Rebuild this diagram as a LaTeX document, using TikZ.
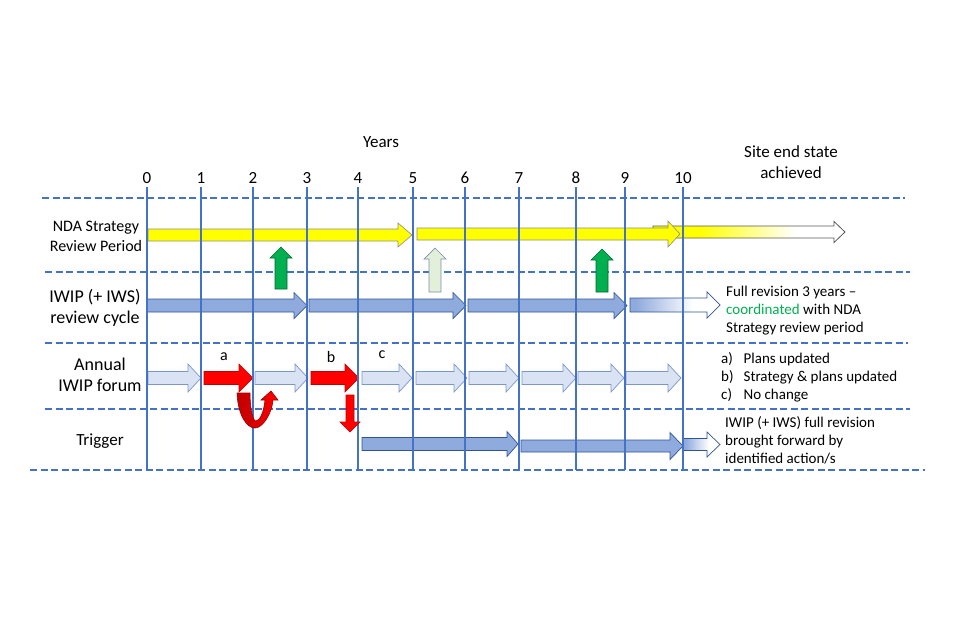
\documentclass[tikz,border=0pt]{standalone}
\usepackage{fontspec}
\setmainfont{Carlito}
\usepackage{tikz}
\usetikzlibrary{calc}
\definecolor{gridblue}{RGB}{68,114,196}
\definecolor{cyclefill}{RGB}{143,170,220}
\definecolor{cycledraw}{RGB}{47,85,151}
\definecolor{forumfill}{RGB}{218,227,243}
\definecolor{forumdraw}{RGB}{122,150,208}
\definecolor{ndayellow}{RGB}{255,255,0}
\definecolor{okgreen}{RGB}{0,176,80}
\definecolor{palegreen}{RGB}{226,240,217}
\definecolor{alertred}{RGB}{255,0,0}
\definecolor{darkred}{RGB}{192,0,0}
\pgfdeclarehorizontalshading{ndafade}{100bp}{color(0bp)=(ndayellow); color(37bp)=(ndayellow); color(62bp)=(white); color(100bp)=(white)}
\pgfdeclarehorizontalshading{cyclefade}{100bp}{color(0bp)=(cyclefill); color(28bp)=(cyclefill); color(60bp)=(white); color(100bp)=(white)}

% block arrow: [style]{x from}{x tip}{y}{shaft half}{head half}{head length}
\newcommand{\harrow}[7][]{%
	\draw[#1] (#2,{#4-#5}) -- ({#3-#7},{#4-#5}) -- ({#3-#7},{#4-#6}) -- (#3,#4)
		-- ({#3-#7},{#4+#6}) -- ({#3-#7},{#4+#5}) -- (#2,{#4+#5}) -- cycle;}
% same, vertical: [style]{x}{y from}{y tip}{shaft half}{head half}{head length}
\newcommand{\varrow}[7][]{%
	\draw[#1] ({#2-#5},#3) -- ({#2-#5},{#4-sign(#4-#3)*#7}) -- ({#2-#6},{#4-sign(#4-#3)*#7}) -- (#2,#4)
		-- ({#2+#6},{#4-sign(#4-#3)*#7}) -- ({#2+#5},{#4-sign(#4-#3)*#7}) -- ({#2+#5},#3) -- cycle;}

\begin{document}
\begin{tikzpicture}[x=1pt, y=-1pt,
		rowline/.style={gridblue, line width=1.4pt, dash pattern=on 7pt off 3.5pt},
		yearline/.style={gridblue, line width=1.6pt},
		label/.style={font=\fontsize{17}{20.5}\selectfont, align=center, inner sep=0pt},
		note/.style={font=\fontsize{15}{18}\selectfont, align=left, anchor=west, inner sep=0pt},
		ndaarrow/.style={fill=ndayellow, draw=black!45, line width=0.6pt},
		fadearrow/.style={shading=ndafade, draw=black!65, line width=0.8pt},
		cyclearrow/.style={fill=cyclefill, draw=cycledraw, line width=0.7pt},
		cyclefadearrow/.style={shading=cyclefade, draw=cycledraw, line width=0.7pt},
		forumarrow/.style={fill=forumfill, draw=forumdraw, line width=0.7pt},
		redarrow/.style={fill=alertred, draw=darkred, line width=0.6pt},
		greenarrow/.style={fill=okgreen, draw=okgreen!60!black, line width=0.6pt},
		palearrow/.style={fill=palegreen, draw=black!40!gridblue!60, line width=0.7pt}]
	\useasboundingbox (0,0) rectangle (960,640);

	% row separators
	\foreach \y/\a/\b in {198/42/905, 272/45/910, 343/45/908, 409/45/910, 470/30/925} {
		\draw[rowline] (\a,\y) -- (\b,\y);
	}

	% NDA strategy
	\harrow[fadearrow]{653}{845}{232}{6}{10.5}{11}
	\harrow[ndaarrow]{148}{412}{235}{6}{12}{14}
	\harrow[ndaarrow]{417}{680}{234}{6}{13}{12}

	% IWIP review cycle
	\foreach \a/\b in {147/307, 309/466, 468/627} {
		\harrow[cyclearrow]{\a}{\b}{305.5}{6.5}{13}{13}
	}
	\harrow[cyclefadearrow]{630}{720}{305}{7}{13}{13}

	% annual forum
	\foreach \a/\b in {148/201, 255/308, 362/412, 416/467, 469/519, 522/576, 578/624, 626/681} {
		\harrow[forumarrow]{\a}{\b}{378}{6.5}{14}{13}
	}
	\harrow[redarrow]{204}{253}{378}{6.5}{14}{14}
	\harrow[redarrow]{311}{359}{378}{6.5}{14}{14}

	% trigger
	\harrow[cyclearrow]{362}{518}{444}{6.5}{12.5}{11}
	\harrow[cyclearrow]{521}{683}{446}{6}{13.5}{13}
	\harrow[cyclefadearrow]{683}{720}{444.5}{6}{12.5}{13}

	% years
	\foreach \x/\n in {147/0, 201/1, 253/2, 307/3, 358/4, 413/5, 465/6, 519/7, 576/8, 625/9, 683/10} {
		\draw[yearline] (\x,187) -- (\x,470);
		\node[label] (n\n) at (\x,178) {\n};
	}

	% review triggers between rows
	\varrow[greenarrow]{281}{289}{247}{6}{11}{11}
	\varrow[palearrow]{435}{292}{248}{6}{11}{11}
	\varrow[greenarrow]{602}{292}{249}{6}{11}{11}
	\varrow[redarrow]{350}{395}{432}{4}{10}{10}
	\draw[left color=darkred, right color=alertred, draw=darkred!80!black, line width=0.6pt]
		(237,393) .. controls (238,416) and (247,428) .. (255,428)
		.. controls (263,428) and (272,413) .. (273,400) -- (278,400) -- (271,391) -- (261,400) -- (265,400)
		.. controls (264,411) and (260,421) .. (256,421)
		.. controls (252,421) and (250,405) .. (250,393) -- cycle;

	\node[label] (years) at (381,142) {Years};
	\node[label, font=\fontsize{17}{21}\selectfont] (endstate) at (791,162) {Site end state\\achieved};
	\node[label, font=\fontsize{16}{19.5}\selectfont] (lblnda) at (96,236.5) {NDA Strategy\\Review Period};
	\node[label, font=\fontsize{18}{20.5}\selectfont] (lbliwip) at (95,308) {IWIP (+ IWS)\\review cycle};
	\node[label, font=\fontsize{18}{21.5}\selectfont] (lblforum) at (100,375) {Annual\\IWIP forum};
	\node[label] (lbltrigger) at (100,441) {Trigger};
	\node[label, font=\fontsize{16}{20}\selectfont] (opta) at (224,357) {a};
	\node[label, font=\fontsize{16}{20}\selectfont] (optb) at (331,357) {b};
	\node[label, font=\fontsize{16}{20}\selectfont] (optc) at (382,355) {c};

	\node[note] (notecycle) at (726,311) {Full revision 3 years --\\\textcolor{okgreen}{coordinated} with NDA\\Strategy review period};
	\node[note] (noteforum) at (721,378) {\begin{tabular}{@{}l@{\hspace{10pt}}l@{}}a) & Plans updated\\b) & Strategy \& plans updated\\c) & No change\end{tabular}};
	\node[note] (notetrigger) at (725,440) {IWIP (+ IWS) full revision\\brought forward by\\identified action/s};
\end{tikzpicture}
\end{document}
